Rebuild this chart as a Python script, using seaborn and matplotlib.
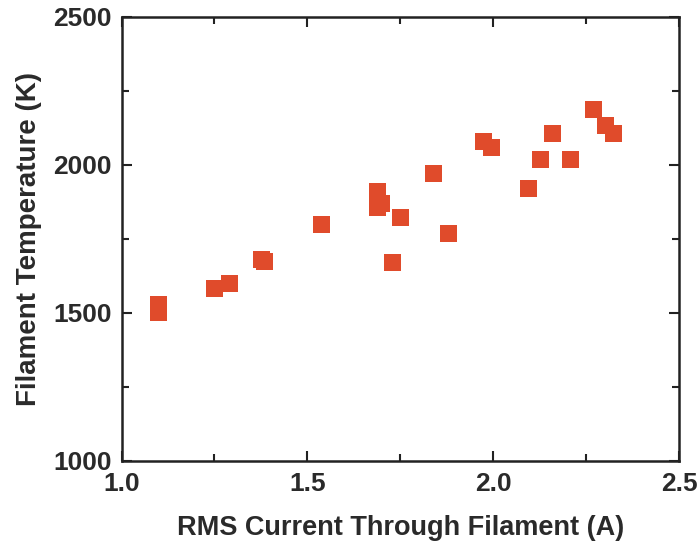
import matplotlib
matplotlib.use("Agg")
import matplotlib.pyplot as plt
import seaborn as sns
import pandas as pd
from matplotlib.ticker import MultipleLocator

# valores
corrente = [1.10, 1.10, 1.25, 1.29, 1.377, 1.386, 1.539, 1.689, 1.689, 1.700,
            1.750, 1.729, 1.840, 1.881, 1.975, 1.995, 2.096, 2.127, 2.159,
            2.209, 2.271, 2.303, 2.324]
temperatura = [1527, 1502, 1582, 1597, 1681, 1672, 1797, 1909, 1855, 1870,
               1820, 1670, 1969, 1769, 2078, 2057, 1918, 2016, 2106,
               2016, 2185, 2134, 2104]

dados = pd.DataFrame({"corrente": corrente, "temperatura": temperatura})

sns.set_style("ticks")
plt.rcParams["font.family"] = ["Liberation Sans", "DejaVu Sans"]

fig = plt.figure(figsize=(7, 5.54), dpi=100)
ax = fig.add_axes([0.1736, 0.1684, 0.7964, 0.8015])

sns.scatterplot(data=dados, x="corrente", y="temperatura", marker="s", s=150,
                color="#e04b2b", edgecolor="none", ax=ax)

ax.set_xlim(1.0, 2.5)
ax.set_ylim(1000, 2500)
ax.xaxis.set_major_locator(MultipleLocator(0.5))
ax.xaxis.set_minor_locator(MultipleLocator(0.25))
ax.yaxis.set_major_locator(MultipleLocator(500))
ax.yaxis.set_minor_locator(MultipleLocator(250))
ax.tick_params(which="both", direction="in", top=True, right=True,
               width=1.5, color="#222222")
ax.tick_params(which="major", length=7, labelsize=19)
ax.tick_params(which="minor", length=5)
ax.tick_params(axis="x", which="major", pad=8)
ax.tick_params(axis="y", which="major", pad=7)
for lbl in ax.get_xticklabels() + ax.get_yticklabels():
    lbl.set_fontweight("bold")
    lbl.set_color("#2a2a2a")
for sp in ax.spines.values():
    sp.set_linewidth(1.8)
    sp.set_color("#222222")

ax.set_xlabel("RMS Current Through Filament (A)", fontsize=19.5,
              fontweight="bold", color="#2a2a2a", labelpad=14)
ax.set_ylabel("Filament Temperature (K)", fontsize=20,
              fontweight="bold", color="#2a2a2a", labelpad=8)

fig.savefig("out.png", dpi=100)
